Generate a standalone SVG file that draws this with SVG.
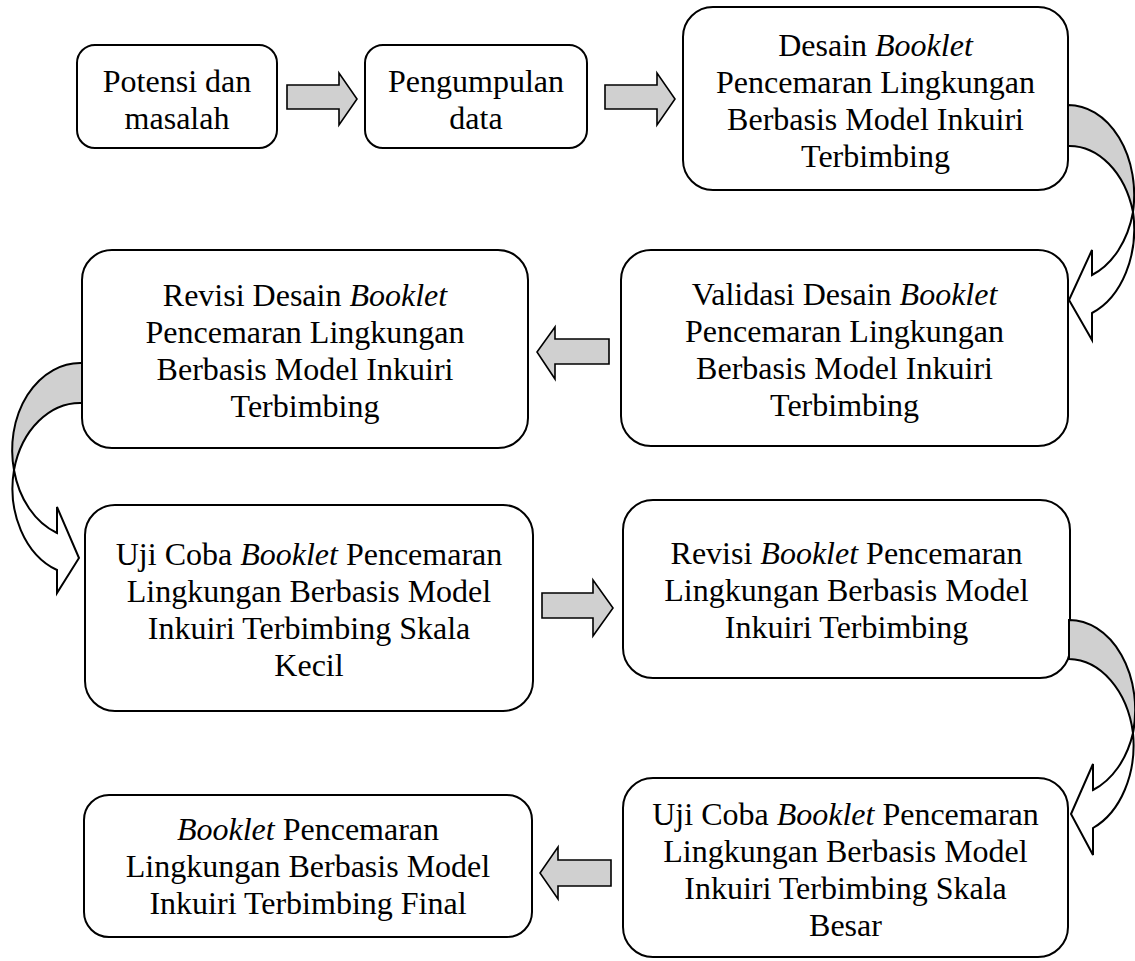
<svg xmlns="http://www.w3.org/2000/svg" width="1135" height="961" viewBox="0 0 1135 961" font-family="'Liberation Serif', 'Times New Roman', 'DejaVu Serif', serif">
<defs>
<style>
.box{fill:#fff;stroke:#000;stroke-width:2}
.t{font-family:'Liberation Serif','Times New Roman','DejaVu Serif',serif;font-size:32px;fill:#000;text-anchor:middle}
.i{font-style:italic}
.arr{fill:#d0d0d0;stroke:#000;stroke-width:1.6;stroke-linejoin:miter}
.cg{fill:#d0d0d0;stroke:#000;stroke-width:2}
.cw{fill:#fff;stroke:#000;stroke-width:2;stroke-linejoin:miter}
</style>
</defs>
<rect width="1135" height="961" fill="#fff"/>
<g id="n1"><rect class="box" x="77" y="45" width="200" height="103" rx="18"/>
<text class="t" x="177" y="92">Potensi dan</text><text class="t" x="177" y="129">masalah</text></g>
<g id="n2"><rect class="box" x="365" y="45" width="222" height="103" rx="18"/>
<text class="t" x="476" y="92">Pengumpulan</text><text class="t" x="476" y="129">data</text></g>
<g id="n3"><rect class="box" x="683" y="7" width="385" height="183" rx="30"/>
<text class="t" x="875.5" y="56">Desain <tspan class="i">Booklet</tspan></text>
<text class="t" x="875.5" y="93">Pencemaran Lingkungan</text>
<text class="t" x="875.5" y="130">Berbasis Model Inkuiri</text>
<text class="t" x="875.5" y="167">Terbimbing</text></g>
<g id="n4"><rect class="box" x="82" y="250" width="446" height="198" rx="30"/>
<text class="t" x="305" y="306">Revisi Desain <tspan class="i">Booklet</tspan></text>
<text class="t" x="305" y="343">Pencemaran Lingkungan</text>
<text class="t" x="305" y="380">Berbasis Model Inkuiri</text>
<text class="t" x="305" y="417">Terbimbing</text></g>
<g id="n5"><rect class="box" x="621" y="250" width="447" height="196" rx="30"/>
<text class="t" x="844.5" y="305">Validasi Desain <tspan class="i">Booklet</tspan></text>
<text class="t" x="844.5" y="342">Pencemaran Lingkungan</text>
<text class="t" x="844.5" y="379">Berbasis Model Inkuiri</text>
<text class="t" x="844.5" y="416">Terbimbing</text></g>
<g id="n6"><rect class="box" x="85" y="505" width="448" height="206" rx="30"/>
<text class="t" x="309" y="565">Uji Coba <tspan class="i">Booklet</tspan> Pencemaran</text>
<text class="t" x="309" y="602">Lingkungan Berbasis Model</text>
<text class="t" x="309" y="639">Inkuiri Terbimbing Skala</text>
<text class="t" x="309" y="676">Kecil</text></g>
<g id="n7"><rect class="box" x="623" y="500" width="447" height="178" rx="30"/>
<text class="t" x="846.5" y="564">Revisi <tspan class="i">Booklet</tspan> Pencemaran</text>
<text class="t" x="846.5" y="601">Lingkungan Berbasis Model</text>
<text class="t" x="846.5" y="638">Inkuiri Terbimbing</text></g>
<g id="n8"><rect class="box" x="84" y="795" width="448" height="142" rx="25"/>
<text class="t" x="308" y="840"><tspan class="i">Booklet</tspan> Pencemaran</text>
<text class="t" x="308" y="877">Lingkungan Berbasis Model</text>
<text class="t" x="308" y="914">Inkuiri Terbimbing Final</text></g>
<g id="n9"><rect class="box" x="623" y="778" width="445" height="179" rx="30"/>
<text class="t" x="845.5" y="825">Uji Coba <tspan class="i">Booklet</tspan> Pencemaran</text>
<text class="t" x="845.5" y="862">Lingkungan Berbasis Model</text>
<text class="t" x="845.5" y="899">Inkuiri Terbimbing Skala</text>
<text class="t" x="845.5" y="936">Besar</text></g>
<g id="connectors">
<path class="arr" d="M287,85 L339,85 L339,73 L357,99 L339,125 L339,109 L287,109 Z"/>
<path class="arr" d="M605,85 L657,85 L657,73 L675,99 L657,125 L657,109 L605,109 Z"/>
<path class="arr" d="M609,339 L555,339 L555,327 L537,352 L555,379 L555,364 L609,364 Z"/>
<path class="arr" d="M542,593 L593,593 L593,580 L613,608 L593,636 L593,618 L542,618 Z"/>
<path class="arr" d="M611,860 L558,860 L558,847 L540,873 L558,899 L558,886 L611,886 Z"/>
<path class="cg" d="M1068,105 A66,90 0 0 1 1133,212 A66,90 0 0 0 1068,146 Z"/>
<path class="cw" d="M1133,212 A66,90 0 0 1 1092,313 L1092,340 L1069,300 L1092,250 L1092,275 A66,90 0 0 0 1133,212 Z"/>
<path class="cg" d="M82,363 A68,87 0 0 0 14,470 A68,87 0 0 1 82,403 Z"/>
<path class="cw" d="M14,470 A68,87 0 0 0 57,570 L57,593 L79,558 L57,507 L57,533 A68,87 0 0 1 14,470 Z"/>
<path class="cg" d="M1069,620 A66,90 0 0 1 1133,733 A66,90 0 0 0 1069,659 Z"/>
<path class="cw" d="M1133,733 A66,90 0 0 1 1093,828 L1093,855 L1071,814 L1093,764 L1093,790 A66,90 0 0 0 1133,733 Z"/>
</g>
</svg>
